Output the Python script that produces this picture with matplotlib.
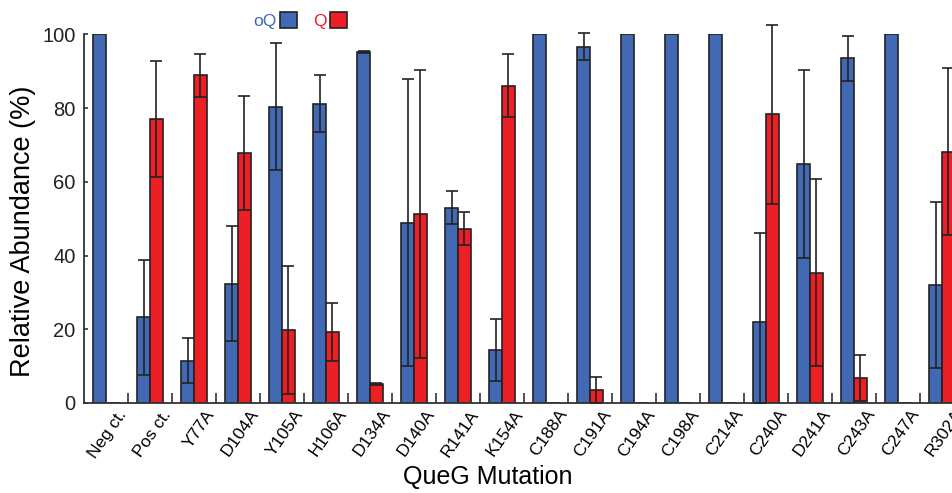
import matplotlib
matplotlib.use("Agg")
import matplotlib.pyplot as plt
import numpy as np
from matplotlib.patches import Patch

plt.rcParams["font.family"] = ["Liberation Sans", "DejaVu Sans"]

mutations = ["Neg ct.", "Pos ct.", "Y77A", "D104A", "Y105A", "H106A", "D134A",
             "D140A", "R141A", "K154A", "C188A", "C191A", "C194A", "C198A",
             "C214A", "C240A", "D241A", "C243A", "C247A", "R302A"]

# oQ (blue) and Q (red) relative abundance, % with error (nan = no bar)
oq_vals = [100, 23.2, 11.5, 32.4, 80.4, 81.2, 95.2, 48.9, 53.0, 14.3,
           100, 96.7, 100, 100, 100, 22.0, 64.8, 93.5, 100, 32.0]
oq_err = [np.nan, 15.7, 6.0, 15.5, 17.3, 7.8, 0.3, 39.0, 4.4, 8.4,
          np.nan, 3.6, np.nan, np.nan, np.nan, 24.0, 25.5, 6.0, np.nan, 22.5]
q_vals = [0, 77.0, 88.9, 67.8, 19.8, 19.2, 5.1, 51.3, 47.3, 86.1,
          0, 3.5, 0, 0, 0, 78.3, 35.4, 6.7, 0, 68.2]
q_err = [np.nan, 15.8, 5.9, 15.5, 17.3, 7.8, 0.2, 39.0, 4.4, 8.6,
         np.nan, 3.6, np.nan, np.nan, np.nan, 24.2, 25.4, 6.2, np.nan, 22.6]

blue = "#4169b4"
red = "#ec1f24"
edge = "#222222"

x = np.arange(len(mutations))
w = 0.29

fig = plt.figure(figsize=(9.52, 4.93), dpi=100)
ax = fig.add_axes([0.0882, 0.1826, 0.9244, 0.7475])

ax.bar(x - w / 2, oq_vals, w, color=blue, edgecolor=edge, linewidth=1.2, zorder=2)
ax.bar(x + w / 2, q_vals, w, color=red, edgecolor=edge, linewidth=1.2, zorder=2)


def draw_err(xpos, vals, err):
    vals = np.asarray(vals, float)
    err = np.asarray(err, float)
    lower = np.minimum(err, vals)  # bars can't go below zero
    eb = ax.errorbar(xpos, vals, yerr=[lower, err], fmt="none", ecolor=edge,
                     elinewidth=1.2, capsize=4, capthick=1.2, zorder=3)
    for art in eb.lines[1] + eb.lines[2]:
        art.set_clip_on(False)


draw_err(x - w / 2, oq_vals, oq_err)
draw_err(x + w / 2, q_vals, q_err)

ax.set_xlim(-0.5, len(mutations) - 0.5)
ax.set_ylim(0, 100)
ax.spines["top"].set_visible(False)
ax.spines["right"].set_visible(False)
for s in ("left", "bottom"):
    ax.spines[s].set_linewidth(1.3)
    ax.spines[s].set_color("#333333")

ax.set_yticks([0, 20, 40, 60, 80, 100])
ax.tick_params(axis="y", direction="in", length=3, width=1.2, pad=6,
               labelsize=14.5, colors="#333333", labelcolor="#222222")

ax.set_xticks(x + 0.5, minor=True)
ax.set_xticks(x + 0.40)
ax.set_xticklabels(mutations, rotation=55, ha="right", va="center",
                   rotation_mode="anchor", fontsize=12.5)
ax.tick_params(axis="x", which="major", length=0, pad=6)
ax.tick_params(axis="x", which="minor", direction="in", length=7, width=1.2,
               colors="#333333")

ax.set_ylabel("Relative Abundance (%)", fontsize=19.5)
ax.yaxis.set_label_coords(-0.055, 0.467)
ax.set_xlabel("QueG Mutation", fontsize=18)
ax.xaxis.set_label_coords(0.459, -0.168)

handles = [Patch(facecolor=blue, edgecolor=edge, linewidth=1.2),
           Patch(facecolor=red, edgecolor=edge, linewidth=1.2)]
ax.legend(handles, ["oQ", "Q"], ncol=2, markerfirst=False, frameon=False,
          labelcolor=[blue, red], fontsize=12.5, handlelength=1.0,
          handleheight=1.0, handletextpad=0.2, columnspacing=0.9,
          borderpad=0, borderaxespad=0, loc="upper left",
          bbox_to_anchor=(253 / 952, 1 - 12 / 493),
          bbox_transform=fig.transFigure)

fig.savefig("out.png", dpi=100)
